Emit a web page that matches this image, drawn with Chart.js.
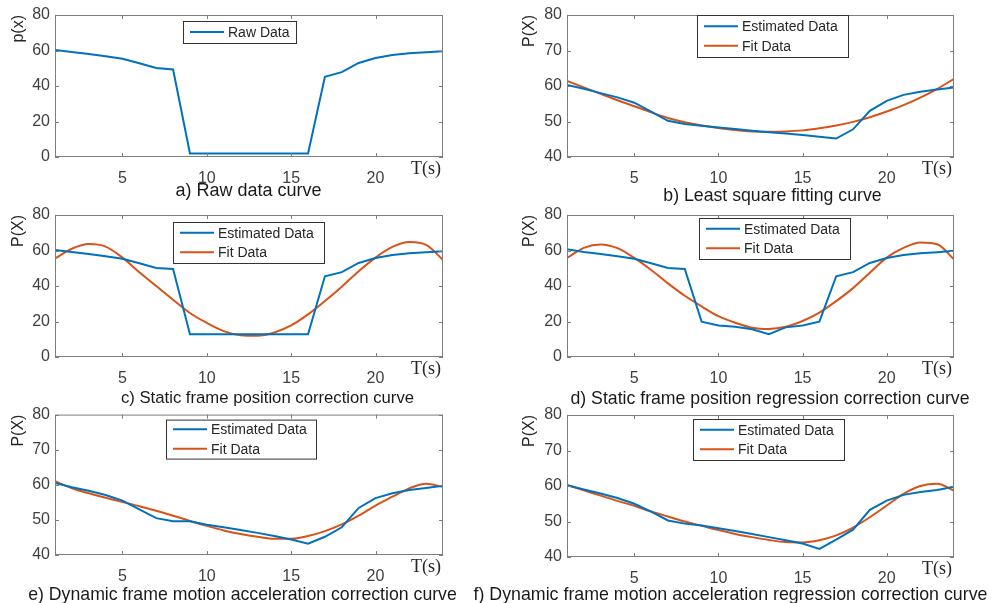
<!DOCTYPE html>
<html>
<head>
<meta charset="utf-8">
<script src="https://cdn.jsdelivr.net/npm/chart.js@4.4.1/dist/chart.umd.min.js"></script>
<style>
  body { margin: 0; background: #fff; width: 996px; height: 603px; position: relative; overflow: hidden;
         font-family: "Liberation Sans", Arial, sans-serif; }
  canvas { position: absolute; }
  .cap { position: absolute; width: 600px; text-align: center; line-height: 18px;
         color: #1a1a1a; white-space: nowrap; }
</style>
</head>
<body>
<canvas id="pa"></canvas>
<canvas id="pb"></canvas>
<canvas id="pc"></canvas>
<canvas id="pd"></canvas>
<canvas id="pe"></canvas>
<canvas id="pf"></canvas>

<script>
// ---- data ----
var tSec = [1, 2, 3, 4, 5, 6, 7, 8, 9, 10, 11, 12, 13, 14, 15, 16, 17, 18, 19, 20, 21, 22, 23, 24];
var xTicks = [5, 10, 15, 20];
var yTicksFull = [0, 20, 40, 60, 80];
var yTicksZoom = [40, 50, 60, 70, 80];

// a) raw data
var rawData = [60.3, 59.2, 58.0, 56.8, 55.3, 52.8, 50.2, 49.3, 2, 2, 2, 2, 2, 2, 2, 2, 45.2, 47.8, 53.0, 55.8, 57.5, 58.4, 59.0, 59.6];
// b) least square fitting
var estB = [60.3, 59.2, 58.0, 56.8, 55.3, 52.8, 50.2, 49.3, 48.8, 48.3, 47.9, 47.4, 47.0, 46.6, 46.2, 45.7, 45.2, 47.8, 53.0, 55.8, 57.5, 58.4, 59.0, 59.6];
var fitB = [61.4, 59.6, 57.8, 56.0, 54.3, 52.6, 51.0, 49.8, 48.9, 48.2, 47.6, 47.2, 47.1, 47.2, 47.5, 48.1, 48.9, 49.9, 51.2, 52.8, 54.6, 56.7, 59.2, 62.0];
// c) static frame position correction
var estC = [60.3, 59.2, 58.0, 56.8, 55.3, 52.8, 50.2, 49.6, 12.8, 12.8, 12.8, 12.8, 12.8, 12.8, 12.8, 12.8, 45.5, 47.8, 53.0, 55.8, 57.5, 58.4, 59.0, 59.6];
var fitC = [55.5, 61.0, 63.6, 62.2, 56.0, 47.8, 40.0, 32.3, 24.8, 19.2, 14.6, 12.3, 12.0, 13.8, 17.8, 24.0, 31.5, 39.6, 48.3, 56.0, 62.0, 64.8, 63.2, 54.7];
// d) static frame position regression correction
var estD = [60.7, 59.2, 58.0, 56.8, 55.3, 52.8, 50.2, 49.6, 19.9, 17.8, 17.0, 15.6, 12.8, 16.7, 17.8, 19.9, 45.5, 47.8, 53.0, 55.8, 57.5, 58.4, 59.0, 59.8];
var fitD = [55.8, 61.5, 63.4, 61.3, 55.8, 49.0, 41.5, 34.5, 28.5, 23.0, 19.3, 16.5, 15.8, 17.0, 20.3, 25.0, 31.5, 38.8, 47.5, 56.0, 61.5, 64.5, 63.5, 55.0];
// e) dynamic frame motion acceleration correction
var estE = [60.5, 59.3, 58.3, 57.1, 55.5, 53.0, 50.5, 49.6, 49.6, 48.6, 47.9, 47.1, 46.3, 45.4, 44.4, 43.2, 45.2, 47.9, 53.4, 56.2, 57.6, 58.5, 59.1, 59.7];
var fitE = [61.0, 59.0, 57.6, 56.3, 55.1, 53.9, 52.6, 51.2, 49.7, 48.3, 47.0, 46.0, 45.2, 44.6, 44.6, 45.4, 46.8, 48.7, 51.2, 54.1, 56.6, 59.0, 60.3, 59.4];
// f) dynamic frame motion acceleration regression correction
var estF = [60.2, 59.0, 57.9, 56.6, 55.0, 52.8, 50.3, 49.4, 48.9, 48.1, 47.3, 46.5, 45.6, 44.7, 43.8, 42.3, 44.9, 47.7, 53.3, 55.9, 57.5, 58.3, 58.9, 59.8];
var fitF = [60.3, 58.8, 57.3, 55.8, 54.4, 52.8, 51.4, 50.0, 48.8, 47.6, 46.5, 45.6, 44.8, 44.2, 44.1, 44.7, 46.1, 48.3, 51.2, 54.5, 57.8, 60.0, 60.6, 58.7];

var BLUE = "#0072BD";
var ORANGE = "#D95319";
var SANS = '"Liberation Sans", Arial, sans-serif';

function pts(vals) {
  return tSec.map(function (t, i) { return { x: t, y: vals[i] }; });
}

// box, inward ticks, in-axes legend and the T(s) label
var framePlugin = {
  id: "frame",
  afterDatasetsDraw: function (chart, args, opts) {
    var ctx = chart.ctx, a = chart.chartArea;
    var xs = chart.scales.x, ys = chart.scales.y;
    ctx.save();
    ctx.strokeStyle = "#7d7d7d";
    ctx.lineWidth = 1;
    ctx.strokeRect(a.left + 0.5, a.top + 0.5, a.width - 1, a.height - 1);
    ctx.beginPath();
    xs.ticks.forEach(function (t) {
      var px = Math.round(xs.getPixelForValue(t.value)) + 0.5;
      ctx.moveTo(px, a.bottom); ctx.lineTo(px, a.bottom - 4);
      ctx.moveTo(px, a.top); ctx.lineTo(px, a.top + 4);
    });
    ys.ticks.forEach(function (t) {
      var py = Math.round(ys.getPixelForValue(t.value)) + 0.5;
      ctx.moveTo(a.left, py); ctx.lineTo(a.left + 4, py);
      ctx.moveTo(a.right, py); ctx.lineTo(a.right - 4, py);
    });
    ctx.stroke();

    // legend
    var lg = opts.legend;
    var bx = a.left + lg.dx, by = a.top + lg.dy;
    ctx.fillStyle = "#fff";
    ctx.fillRect(bx, by, lg.w, lg.h);
    ctx.strokeStyle = "#333";
    ctx.strokeRect(bx + 0.5, by + 0.5, lg.w, lg.h);
    var n = chart.data.datasets.length;
    ctx.font = "14px " + SANS;
    ctx.textBaseline = "middle";
    ctx.textAlign = "left";
    chart.data.datasets.forEach(function (ds, i) {
      var ry = by + lg.h / 2 + (i - (n - 1) / 2) * 19.5;
      ctx.strokeStyle = ds.borderColor;
      ctx.lineWidth = 2;
      ctx.beginPath();
      ctx.moveTo(bx + 7, ry); ctx.lineTo(bx + 41, ry);
      ctx.stroke();
      ctx.fillStyle = "#262626";
      ctx.fillText(ds.label, bx + 45, ry + 1);
    });

    // T(s)
    ctx.font = '18px "Liberation Serif", "Times New Roman", serif';
    ctx.fillStyle = "#262626";
    ctx.textAlign = "right";
    ctx.textBaseline = "top";
    ctx.fillText(opts.xLabel, a.right - 2, a.bottom + 3);
    ctx.restore();
  }
};

var panels = [
  { id: "pa", left: 0, top: 0, w: 460, h: 185, padL: 9, padR: 17, padT: 15, yW: 46,
    yTitle: "p(x)", yMin: 0, yMax: 80, yTicks: yTicksFull,
    series: [["Raw Data", rawData, BLUE]],
    legend: { dx: 128, dy: 6, w: 113, h: 22 },
    caption: "a) Raw data curve", capX: 248.5, capY: 190, capSize: 18 },
  { id: "pb", left: 490, top: 0, w: 506, h: 185, padL: 30, padR: 42, padT: 15, yW: 47,
    yTitle: "P(X)", yMin: 40, yMax: 80, yTicks: yTicksZoom,
    series: [["Estimated Data", estB, BLUE], ["Fit Data", fitB, ORANGE]],
    legend: { dx: 130, dy: 0, w: 151, h: 42 },
    caption: "b) Least square fitting curve", capX: 772.5, capY: 195, capSize: 17.7 },
  { id: "pc", left: 0, top: 200, w: 460, h: 185, padL: 9, padR: 17, padT: 15, yW: 46,
    yTitle: "P(X)", yMin: 0, yMax: 80, yTicks: yTicksFull,
    series: [["Estimated Data", estC, BLUE], ["Fit Data", fitC, ORANGE]],
    legend: { dx: 118, dy: 7, w: 151, h: 41 },
    caption: "c) Static frame position correction curve", capX: 267.5, capY: 398, capSize: 16.7 },
  { id: "pd", left: 490, top: 200, w: 506, h: 185, padL: 30, padR: 42, padT: 15, yW: 47,
    yTitle: "P(X)", yMin: 0, yMax: 80, yTicks: yTicksFull,
    series: [["Estimated Data", estD, BLUE], ["Fit Data", fitD, ORANGE]],
    legend: { dx: 132, dy: 3, w: 151, h: 41 },
    caption: "d) Static frame position regression correction curve", capX: 770, capY: 398, capSize: 17.7 },
  { id: "pe", left: 0, top: 400, w: 460, h: 183, padL: 9, padR: 17, padT: 14, yW: 46,
    yTitle: "P(X)", yMin: 40, yMax: 80, yTicks: yTicksZoom,
    series: [["Estimated Data", estE, BLUE], ["Fit Data", fitE, ORANGE]],
    legend: { dx: 111, dy: 5, w: 150, h: 39 },
    caption: "e) Dynamic frame motion acceleration correction curve", capX: 242.5, capY: 594, capSize: 17.7 },
  { id: "pf", left: 490, top: 400, w: 506, h: 185, padL: 30, padR: 42, padT: 15, yW: 47,
    yTitle: "P(X)", yMin: 40, yMax: 80, yTicks: yTicksZoom,
    series: [["Estimated Data", estF, BLUE], ["Fit Data", fitF, ORANGE]],
    legend: { dx: 126, dy: 4, w: 151, h: 41 },
    caption: "f) Dynamic frame motion acceleration regression correction curve", capX: 730.5, capY: 594, capSize: 17.8 }
];

panels.forEach(function (p) {
  var cv = document.getElementById(p.id);
  cv.width = p.w; cv.height = p.h;
  cv.style.left = p.left + "px"; cv.style.top = p.top + "px";
  cv.style.width = p.w + "px"; cv.style.height = p.h + "px";

  var cap = document.createElement("div");
  cap.className = "cap";
  cap.textContent = p.caption;
  cap.style.fontSize = p.capSize + "px";
  cap.style.left = (p.capX - 300) + "px";
  cap.style.top = (p.capY - 9) + "px";
  document.body.appendChild(cap);

  var datasets = p.series.map(function (s) {
    return {
      label: s[0],
      data: pts(s[1]),
      borderColor: s[2],
      backgroundColor: s[2],
      borderWidth: 2,
      pointRadius: 0,
      fill: false,
      cubicInterpolationMode: s[0] === "Fit Data" ? "monotone" : "default",
      tension: 0
    };
  });

  new Chart(cv, {
    type: "line",
    data: { datasets: datasets },
    plugins: [framePlugin],
    options: {
      responsive: false,
      animation: false,
      devicePixelRatio: 1,
      layout: { padding: { left: p.padL, right: p.padR, top: p.padT, bottom: 0 } },
      plugins: {
        legend: { display: false },
        tooltip: { enabled: false },
        frame: { legend: p.legend, xLabel: "T(s)" }
      },
      scales: {
        x: {
          type: "linear", min: 1, max: 24,
          grid: { display: false, drawTicks: false },
          border: { display: false },
          afterBuildTicks: function (s) { s.ticks = xTicks.map(function (v) { return { value: v }; }); },
          afterFit: function (s) { s.height = 28; },
          ticks: { padding: 12, color: "#404040", font: { family: SANS, size: 16 }, maxRotation: 0 }
        },
        y: {
          min: p.yMin, max: p.yMax,
          grid: { display: false, drawTicks: false },
          border: { display: false },
          afterBuildTicks: function (s) { s.ticks = p.yTicks.map(function (v) { return { value: v }; }); },
          afterFit: function (s) { s.width = p.yW; },
          ticks: { padding: 5, color: "#404040", font: { family: SANS, size: 16 } },
          title: { display: true, text: p.yTitle, align: "end", color: "#262626",
                   padding: { top: 0, bottom: 0 }, font: { family: SANS, size: 16 } }
        }
      }
    }
  });
});
</script>
</body>
</html>
